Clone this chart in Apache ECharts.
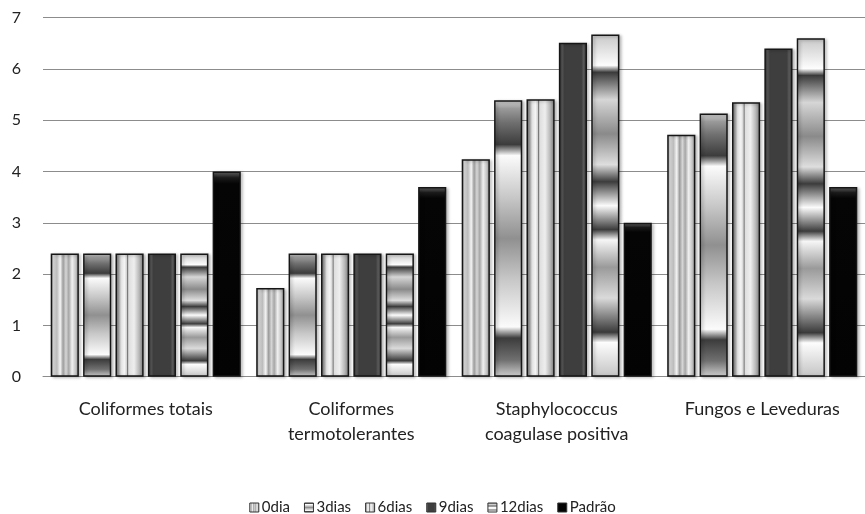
<!DOCTYPE html>
<html>
<head>
<meta charset="utf-8">
<script src="https://cdn.jsdelivr.net/npm/echarts@6/dist/echarts.min.js"></script>
<style>
  html, body { margin: 0; padding: 0; background: #fff; }
  #chart { width: 865px; height: 514px; }
</style>
</head>
<body>
<div id="chart"></div>
<script>
// Microbial counts (log) per group and storage day
const categories = ['Coliformes totais', 'Coliformes\ntermotolerantes', 'Staphylococcus\ncoagulase positiva', 'Fungos e Leveduras'];
const seriesNames = ['0dia', '3dias', '6dias', '9dias', '12dias', 'Padrão'];
const dia0   = [2.4, 1.73, 4.24, 4.72];
const dias3  = [2.4, 2.4, 5.39, 5.13];
const dias6  = [2.4, 2.4, 5.41, 5.35];
const dias9  = [2.4, 2.4, 6.51, 6.40];
const dias12 = [2.4, 2.4, 6.67, 6.60];
const padrao = [4.0, 3.7, 3.0, 3.7];
const yTicks = [0, 1, 2, 3, 4, 5, 6, 7];

const values = [dia0, dias3, dias6, dias9, dias12, padrao];

const FONT = "Lato, 'Liberation Sans', sans-serif";

function lg(x, y, x2, y2, stops) {
  return new echarts.graphic.LinearGradient(x, y, x2, y2,
    stops.map(s => ({ offset: s[0], color: s[1] })));
}

// Fill textures for each series
const fills = [
  // vertical stripes
  lg(0, 0, 1, 0, [[0, '#8c8c8c'], [0.1, '#e6e6e6'], [0.22, '#bcbcbc'], [0.34, '#f4f4f4'], [0.44, '#9c9c9c'],
                  [0.54, '#d6d6d6'], [0.64, '#a6a6a6'], [0.76, '#f0f0f0'], [0.88, '#c6c6c6'], [1, '#8a8a8a']]),
  // dark bands near both ends, bright centre
  lg(0, 0, 0, 1, [[0, '#d4d4d4'], [0.03, '#9a9a9a'], [0.08, '#707070'], [0.16, '#3c3c3c'], [0.2, '#fbfbfb'],
                  [0.35, '#c8c8c8'], [0.5, '#909090'], [0.65, '#c8c8c8'], [0.82, '#fbfbfb'], [0.86, '#3c3c3c'],
                  [0.94, '#707070'], [1, '#cfcfcf']]),
  // light body with a thin dark streak
  lg(0, 0, 1, 0, [[0, '#5e5e5e'], [0.1, '#a0a0a0'], [0.2, '#e2e2e2'], [0.32, '#f4f4f4'], [0.4, '#d0d0d0'],
                  [0.43, '#707070'], [0.47, '#dedede'], [0.66, '#eeeeee'], [0.84, '#b8b8b8'], [1, '#747474']]),
  // dark solid with lighter inner rim
  lg(0, 0, 1, 0, [[0, '#2c2c2c'], [0.12, '#5a5a5a'], [0.2, '#3e3e3e'], [0.8, '#3e3e3e'], [0.88, '#5a5a5a'], [1, '#2c2c2c']]),
  // concentric rings
  lg(0, 0, 0, 1, [[0, '#c8c8c8'], [0.09, '#fdfdfd'], [0.11, '#3a3a3a'], [0.19, '#d6d6d6'], [0.29, '#8a8a8a'],
                  [0.38, '#dedede'], [0.43, '#3c3c3c'], [0.5, '#fbfbfb'], [0.57, '#3c3c3c'], [0.6, '#f6f6f6'],
                  [0.68, '#9a9a9a'], [0.77, '#dadada'], [0.87, '#3a3a3a'], [0.9, '#fdfdfd'], [1, '#c4c4c4']]),
  // black with bevelled top
  lg(0, 0, 0, 1, [[0, '#6a6a6a'], [0.03, '#1a1a1a'], [0.06, '#050505'], [1, '#030303']])
];

const series = seriesNames.map((name, i) => ({
  name: name,
  type: 'bar',
  data: values[i],
  barGap: '15%',
  barCategoryGap: '7.5%',
  itemStyle: {
    color: fills[i],
    borderColor: '#161616',
    borderWidth: 1.5,
    shadowColor: 'rgba(0,0,0,0.25)',
    shadowBlur: 3,
    shadowOffsetX: 2,
    shadowOffsetY: 1
  },
  emphasis: { disabled: true }
}));

const chart = echarts.init(document.getElementById('chart'), null, { renderer: 'canvas' });
chart.setOption({
  animation: false,
  backgroundColor: '#ffffff',
  textStyle: { fontFamily: FONT },
  grid: { left: 43, right: -9, top: 17.7, bottom: 137.3, containLabel: false },
  legend: {
    data: seriesNames,
    top: 495,
    left: 'center',
    icon: 'rect',
    itemWidth: 9,
    itemHeight: 9,
    itemGap: 14,
    textStyle: { fontFamily: FONT, fontSize: 15, color: '#222', padding: [0, 0, 0, -2] },
    itemStyle: { borderColor: '#333', borderWidth: 1 }
  },
  xAxis: {
    type: 'category',
    data: categories,
    axisLine: { lineStyle: { color: '#8c8c8c', width: 1 } },
    axisTick: { show: false },
    axisLabel: { color: '#222', fontSize: 18, lineHeight: 25, margin: 20, fontFamily: FONT, interval: 0 }
  },
  yAxis: {
    type: 'value',
    min: 0,
    max: 7,
    interval: 1,
    axisLine: { show: false },
    axisTick: { show: false },
    splitLine: { lineStyle: { color: '#8c8c8c', width: 1 } },
    axisLabel: {
      color: '#222', fontSize: 16, margin: 22, fontFamily: FONT,
      formatter: v => (yTicks.indexOf(v) >= 0 ? String(v) : '')
    }
  },
  series: series
});
</script>
</body>
</html>
